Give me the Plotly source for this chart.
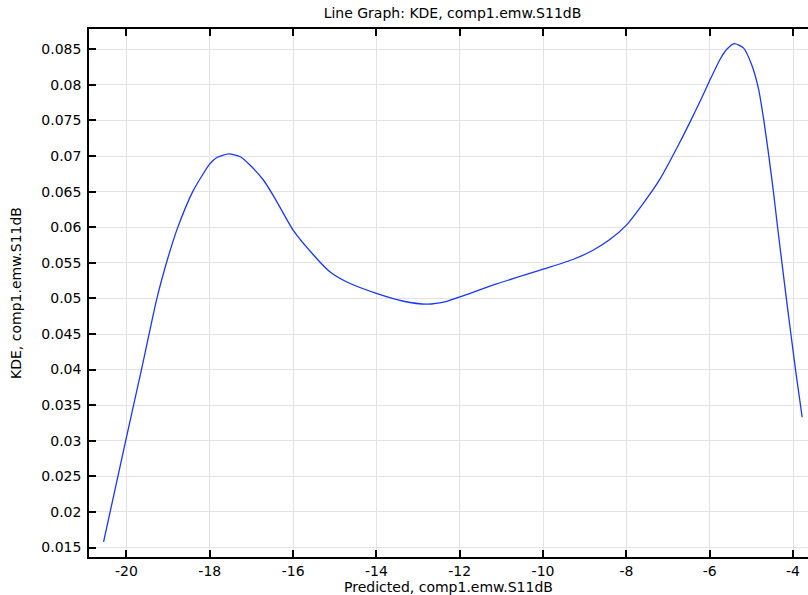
import plotly.graph_objects as go

# Data
pred_x = [-20.55, -20.02, -19.64, -19.27, -19.01, -18.78, -18.41, -18.0, -17.83, -17.55,
          -17.27, -17.03, -16.71, -16.44, -16.0, -15.51, -15.11, -14.71, -14.0, -13.35,
          -12.79, -12.31, -11.75, -11.19, -10.0, -9.27, -8.79, -8.39, -8.0, -7.59,
          -7.19, -6.71, -6.47, -6.23, -6.0, -5.75, -5.59, -5.41, -5.19, -4.99, -4.83,
          -4.70, -4.58, -4.47, -4.37, -4.16, -3.94, -3.78]
kde_y = [0.0158, 0.0300, 0.0400, 0.0500, 0.0556, 0.0598, 0.0650, 0.0689, 0.0698, 0.0703,
         0.0699, 0.0687, 0.0666, 0.0641, 0.0596, 0.0561, 0.0537, 0.0523, 0.0507, 0.0496,
         0.0492, 0.0496, 0.0507, 0.0519, 0.0541, 0.0555, 0.0568, 0.0583, 0.0603, 0.0634,
         0.0668, 0.0720, 0.0748, 0.0777, 0.0806, 0.0836, 0.0850, 0.0858, 0.0852, 0.0828, 0.0795,
         0.0750, 0.0700, 0.0650, 0.0600, 0.0500, 0.0400, 0.0333]

x_tickvals = [-20, -18, -16, -14, -12, -10, -8, -6, -4]
x_ticktext = ["-20", "-18", "-16", "-14", "-12", "-10", "-8", "-6", "-4"]
y_tickvals = [0.015, 0.02, 0.025, 0.03, 0.035, 0.04, 0.045, 0.05, 0.055, 0.06,
              0.065, 0.07, 0.075, 0.08, 0.085]
y_ticktext = ["0.015", "0.02", "0.025", "0.03", "0.035", "0.04", "0.045", "0.05", "0.055",
              "0.06", "0.065", "0.07", "0.075", "0.08", "0.085"]

FONT = "DejaVu Sans"

fig = go.Figure()
fig.add_trace(go.Scatter(
    x=pred_x, y=kde_y, mode="lines",
    line=dict(color="rgb(25,55,255)", width=1.3, shape="spline", smoothing=0.6),
    showlegend=False, hoverinfo="skip",
))

fig.update_layout(
    width=808, height=595,
    margin=dict(l=89, r=0, t=29, b=38),
    paper_bgcolor="white", plot_bgcolor="white",
    font=dict(family=FONT, size=14, color="black"),
    title=dict(text="Line Graph: KDE, comp1.emw.S11dB", x=0.56, xanchor="center",
               y=1 - 13 / 595, yanchor="middle", font=dict(family=FONT, size=14)),
)

fig.update_xaxes(
    range=[-20.90, -3.64],
    tickvals=x_tickvals, ticktext=x_ticktext,
    ticks="inside", ticklen=7, tickwidth=1.5, tickcolor="black",
    showline=True, linecolor="black", linewidth=1.5, mirror="ticks",
    showgrid=True, gridcolor="#e3e3e3", gridwidth=1,
    zeroline=False,
    ticklabelstandoff=0,
    tickfont=dict(family=FONT, size=14),
    title=dict(text="Predicted, comp1.emw.S11dB", font=dict(family=FONT, size=14), standoff=0),
)
fig.update_yaxes(
    range=[0.01367, 0.08785],
    tickvals=y_tickvals, ticktext=y_ticktext,
    ticks="inside", ticklen=7, tickwidth=1.5, tickcolor="black",
    showline=True, linecolor="black", linewidth=1.5, mirror=False,
    showgrid=True, gridcolor="#e3e3e3", gridwidth=1,
    zeroline=False,
    ticklabelstandoff=3,
    tickfont=dict(family=FONT, size=14),
    title=dict(text="KDE, comp1.emw.S11dB", font=dict(family=FONT, size=14), standoff=16),
)

fig.write_html("out.html")
